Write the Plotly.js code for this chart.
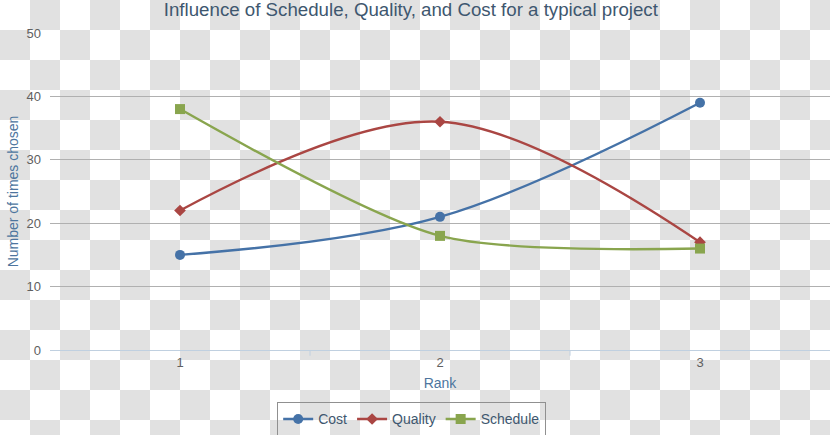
<!DOCTYPE html>
<html>
<head>
<meta charset="utf-8">
<script src="https://cdn.plot.ly/plotly-3.0.1.min.js"></script>
<style>
    html, body {
        margin: 0;
        padding: 0;
        width: 830px;
        height: 435px;
        overflow: hidden;
        /* transparent-image checkerboard, 30px squares */
        background: repeating-conic-gradient(#e1e1e1 0 25%, #ffffff 0 50%) 0 0 / 60px 60px;
    }
    #chart { width: 830px; height: 435px; }
</style>
</head>
<body>
<div id="chart"></div>
<script>
// ============== data ==============
const ranks = [1, 2, 3];
const rankLabels = ['1', '2', '3'];
const costValues = [15, 21, 39];
const qualityValues = [22, 36, 17];
const scheduleValues = [38, 18, 16];

const FONT = '"Liberation Sans", Arial, sans-serif';

const makeSeries = (name, values, color, symbol, size, smoothing) => ({
    x: ranks,
    y: values,
    name: name,
    type: 'scatter',
    mode: 'lines+markers',
    line: { color: color, width: 2.4, shape: 'spline', smoothing: smoothing },
    marker: { color: color, symbol: symbol, size: size },
    hoverinfo: 'x+y+name'
});

const traces = [
    makeSeries('Cost', costValues, '#4572a7', 'circle', 10, 1),
    makeSeries('Quality', qualityValues, '#aa4643', 'diamond', 9, 1),
    makeSeries('Schedule', scheduleValues, '#89a54e', 'square', 10, 0.75)
];

const layout = {
    width: 830,
    height: 435,
    paper_bgcolor: 'rgba(0,0,0,0)',
    plot_bgcolor: 'rgba(0,0,0,0)',
    margin: { l: 50, r: 0, t: 33, b: 85 },
    font: { family: FONT, color: '#666666', size: 13 },
    title: {
        text: 'Influence of Schedule, Quality, and Cost for a typical project',
        font: { family: FONT, size: 18.7, color: '#3e576f' },
        x: 0.495,
        xanchor: 'center',
        y: 0.978,
        yanchor: 'middle'
    },
    xaxis: {
        range: [0.5, 3.5],
        tickvals: ranks,
        ticktext: rankLabels,
        showgrid: false,
        zeroline: false,
        showline: true,
        linecolor: '#c0d0e0',
        linewidth: 1,
        ticks: '',
        tickfont: { size: 13, color: '#606060' },
        title: {
            text: 'Rank',
            font: { family: FONT, size: 14, color: '#4d759e' },
            standoff: 9
        },
        automargin: false,
        fixedrange: true
    },
    yaxis: {
        range: [0, 50],
        tickvals: [0, 10, 20, 30, 40, 50],
        showgrid: true,
        gridcolor: '#b0b0b0',
        gridwidth: 1,
        zeroline: false,
        showline: false,
        ticks: '',
        ticklabelstandoff: 8,
        tickfont: { size: 13, color: '#606060' },
        title: {
            text: 'Number of times chosen',
            font: { family: FONT, size: 14, color: '#4d759e' },
            standoff: 4
        },
        automargin: false,
        fixedrange: true
    },
    // minor tick marks between categories, drawn as axis shapes
    shapes: [1.5, 2.5].map(v => ({
        type: 'line',
        xref: 'x',
        yref: 'paper',
        x0: v, x1: v,
        y0: 0, y1: -0.018,
        line: { color: '#c0d0e0', width: 1 }
    })),
    showlegend: true,
    legend: {
        orientation: 'h',
        xref: 'container',
        yref: 'container',
        x: 0.496,
        xanchor: 'center',
        y: 0.075,
        yanchor: 'top',
        bgcolor: 'rgba(0,0,0,0)',
        bordercolor: '#909090',
        borderwidth: 1,
        font: { family: FONT, size: 14, color: '#3e576f' },
        itemwidth: 30,
        traceorder: 'normal'
    }
};

Plotly.newPlot('chart', traces, layout, { displayModeBar: false, staticPlot: true });
</script>
</body>
</html>
